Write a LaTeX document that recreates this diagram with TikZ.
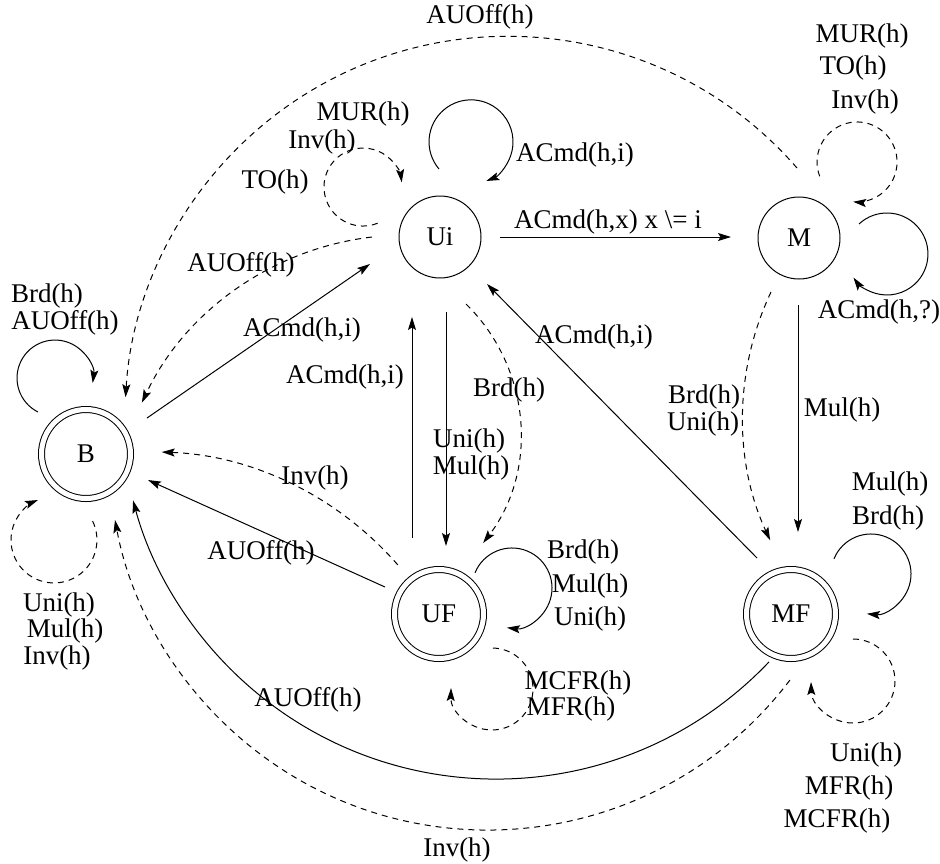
\documentclass[tikz,border=0pt]{standalone}
\usepackage{fontspec}
\setmainfont{Liberation Serif}
\usetikzlibrary{arrows.meta,calc}
\begin{document}
\begin{tikzpicture}[x=1pt,y=-1pt,line width=1pt,
  >={Stealth[length=13pt,width=8pt,inset=2.5pt]},
  every node/.style={font=\fontsize{27}{32}\selectfont,inner sep=0pt},
  st/.style={circle,draw,minimum size=82pt},
  fin/.style={circle,draw,double,double distance=5pt,minimum size=89pt},
  dsh/.style={dash pattern=on 6pt off 5pt}]
\useasboundingbox (0,0) rectangle (940,863);
% states
\node[st]  (Ui) at (440,237) {Ui};
\node[st]  (M)  at (799,238) {M};
\node[fin] (B)  at (86,454)  {B};
\node[fin] (UF) at (439,614) {UF};
\node[fin] (MF) at (791,614) {MF};
% straight transitions
\draw[->] ($(Ui)+(60,0)$) -- ($(M)+(-68,-1)$);
\draw[->] ($(B)+(61,-36)$) -- ($(Ui)+(-70,27)$);
\draw[->] ($(UF)+(-27,-76)$) -- ($(Ui)+(-28,80)$);
\draw[->] ($(Ui)+(6,75)$) -- ($(UF)+(7,-68)$);
\draw[->] ($(MF)+(-34,-56)$) -- ($(Ui)+(47,47)$);
\draw[->] ($(M)+(-1,67)$) -- ($(MF)+(7,-82)$);
\draw[->] ($(UF)+(-54,-27)$) -- ($(B)+(62,26)$);
% curved transitions
\draw[dsh,->] ($(Ui)+(-68,0)$) arc[start angle=-96.7,end angle=-154.8,radius=292];
\draw[dsh,->] ($(Ui)+(26,67)$) arc[start angle=-45.6,end angle=37.4,radius=180.8];
\draw[dsh,->] ($(M)+(-28,54)$) arc[start angle=205.3,end angle=155.1,radius=292.6];
\draw[dsh,->] ($(M)+(-2,-70)$) arc[start angle=-41,end angle=-176.7,radius=383];
\draw[dsh,->] ($(UF)+(-41.2,-49.1)$) arc[start angle=-41,end angle=-87.9,radius=328.8];
\draw[->] ($(MF)+(-22,47.9)$) arc[start angle=43.5,end angle=165,radius=376];
\draw[dsh,->] ($(MF)+(-1.1,66.1)$) arc[start angle=37.2,end angle=169.5,radius=379.2];
% self loops
\draw[->] ($(Ui)+(-1,-68)$) arc[start angle=139.7,end angle=428.7,radius=42];
\draw[dsh,->] ($(Ui)+(-62.4,-13.8)$) arc[start angle=68,end angle=353,radius=39];
\draw[->] ($(B)+(-48,-42)$) arc[start angle=116.6,end angle=367.5,radius=38];
\draw[dsh,->] ($(B)+(6.6,67.1)$) arc[start angle=-26,end angle=248.2,radius=43];
\draw[->] ($(UF)+(36,-41.2)$) arc[start angle=202.3,end angle=457.3,radius=40];
\draw[dsh,->] ($(UF)+(54,34)$) arc[start angle=-88.6,end angle=181.4,radius=41];
\draw[->] ($(MF)+(43,-55.2)$) arc[start angle=202.3,end angle=455.9,radius=40];
\draw[dsh,->] ($(MF)+(62,25)$) arc[start angle=-90,end angle=178.6,radius=42];
\draw[dsh,->] ($(M)+(20.7,-61.7)$) arc[start angle=159,end angle=455.6,radius=40];
\draw[->] ($(M)+(60,-14)$) arc[start angle=227,end angle=504.8,radius=41];
% labels
\node (l1) at (608,222) {ACmd(h,x) x \textbackslash= i};
\node (l2) at (575,155) {ACmd(h,i)};
\node (l3a) at (363,114) {MUR(h)};
\node (l3b) at (322,142) {Inv(h)};
\node (l3c) at (275,182) {TO(h)};
\node (l4) at (241,265) {AUOff(h)};
\node (l5) at (302,330) {ACmd(h,i)};
\node (l6) at (345,377) {ACmd(h,i)};
\node (l7a) at (469,441) {Uni(h)};
\node (l7b) at (471,468) {Mul(h)};
\node (l8) at (509,390) {Brd(h)};
\node (l9) at (594,337) {ACmd(h,i)};
\node (l10) at (842,410) {Mul(h)};
\node (l11a) at (704,397) {Brd(h)};
\node (l11b) at (703,424) {Uni(h)};
\node (l12) at (480,17) {AUOff(h)};
\node (l13a) at (47,296) {Brd(h)};
\node (l13b) at (65,323) {AUOff(h)};
\node (l14a) at (59,605) {Uni(h)};
\node (l14b) at (65,631) {Mul(h)};
\node (l14c) at (57,658) {Inv(h)};
\node (l15) at (261,553) {AUOff(h)};
\node (l16) at (315,478) {Inv(h)};
\node (l17a) at (583,552) {Brd(h)};
\node (l17b) at (590,586) {Mul(h)};
\node (l17c) at (590,619) {Uni(h)};
\node (l18a) at (578,683) {MCFR(h)};
\node (l18b) at (571,709) {MFR(h)};
\node (l19a) at (890,484) {Mul(h)};
\node (l19b) at (888,518) {Brd(h)};
\node (l20a) at (866,755) {Uni(h)};
\node (l20b) at (849,788) {MFR(h)};
\node (l20c) at (837,821) {MCFR(h)};
\node (l21) at (308,700) {AUOff(h)};
\node (l22) at (457,850) {Inv(h)};
\node (l23a) at (862,36) {MUR(h)};
\node (l23b) at (853,68) {TO(h)};
\node (l23c) at (865,102) {Inv(h)};
\node (l24) at (879,312) {ACmd(h,?)};
\end{tikzpicture}
\end{document}
